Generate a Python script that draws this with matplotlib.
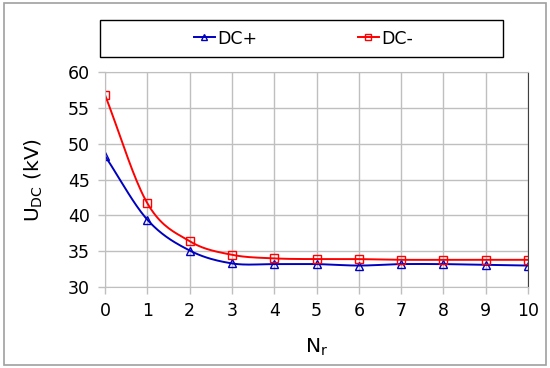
import numpy as np
import matplotlib
matplotlib.use("Agg")
import matplotlib.pyplot as plt
from matplotlib.patches import Rectangle

nr = [0, 1, 2, 3, 4, 5, 6, 7, 8, 9, 10]
dc_plus = [48.3, 39.4, 35.1, 33.3, 33.2, 33.2, 33.0, 33.2, 33.2, 33.1, 33.0]
dc_minus = [56.8, 41.7, 36.4, 34.5, 34.0, 33.9, 33.9, 33.8, 33.8, 33.8, 33.8]


def smooth(x, y, n=20):
    # Catmull-Rom curve through the points, like Excel's smoothed line
    x = np.asarray(x, float); y = np.asarray(y, float)
    px = np.concatenate([[2 * x[0] - x[1]], x, [2 * x[-1] - x[-2]]])
    py = np.concatenate([[2 * y[0] - y[1]], y, [2 * y[-1] - y[-2]]])
    xs, ys = [], []
    t = np.linspace(0, 1, n, endpoint=False)
    for i in range(1, len(px) - 2):
        for p, out in ((px, xs), (py, ys)):
            p0, p1, p2, p3 = p[i - 1], p[i], p[i + 1], p[i + 2]
            out.extend(0.5 * (2 * p1 + (-p0 + p2) * t
                              + (2 * p0 - 5 * p1 + 4 * p2 - p3) * t ** 2
                              + (-p0 + 3 * p1 - 3 * p2 + p3) * t ** 3))
    xs.append(x[-1]); ys.append(y[-1])
    return xs, ys


fig = plt.figure(figsize=(5.5, 3.68), dpi=100)
ax = fig.add_axes([0.191, 0.22, 0.769, 0.584])

for y, col, mk, lab in ((dc_plus, "#0000C0", "^", "DC+"), (dc_minus, "#FF0000", "s", "DC-")):
    sx, sy = smooth(nr, y)
    ax.plot(sx, sy, color=col, lw=1.4)
    ax.plot(nr, y, ls="none", marker=mk, ms=6, mfc="none", mec=col, mew=1.0)
    ax.plot([], [], color=col, lw=1.4, marker=mk, ms=5, mfc="none", mec=col, mew=1.0, label=lab)

ax.set_xlim(0, 10)
ax.set_ylim(30, 60)
ax.set_xticks(range(0, 11))
ax.set_yticks(range(30, 61, 5))
ax.grid(True, color="#BFBFBF", lw=1)
ax.set_axisbelow(True)
ax.tick_params(labelsize=12.5, length=5, color="#BFBFBF", width=1, pad=6)
for s in ("left", "top", "bottom"):
    ax.spines[s].set_color("#BFBFBF")
ax.spines["right"].set_color("#404040")
ax.set_xlabel(r"N$_\mathregular{r}$", fontsize=14.5, labelpad=12)
ax.set_ylabel(r"U$_\mathregular{DC}$ (kV)", fontsize=14.5, labelpad=16)

# legend frame drawn separately, entries centred inside it
fig.patches.append(Rectangle((100 / 550, 1 - 57 / 368), 403 / 550, 37 / 368,
                             transform=fig.transFigure, fill=False,
                             edgecolor="black", lw=1.0))
fig.legend(loc="center", bbox_to_anchor=(0.552, 1 - 38.5 / 368), ncol=2,
           fontsize=12.5, frameon=False, handlelength=1.2, handletextpad=0.15,
           columnspacing=5.8)

fig.patches.append(Rectangle((0.007, 0.008), 0.985, 0.984, transform=fig.transFigure,
                             fill=False, edgecolor="#A0A0A0", lw=1.2))
fig.savefig("out.png", dpi=100)
